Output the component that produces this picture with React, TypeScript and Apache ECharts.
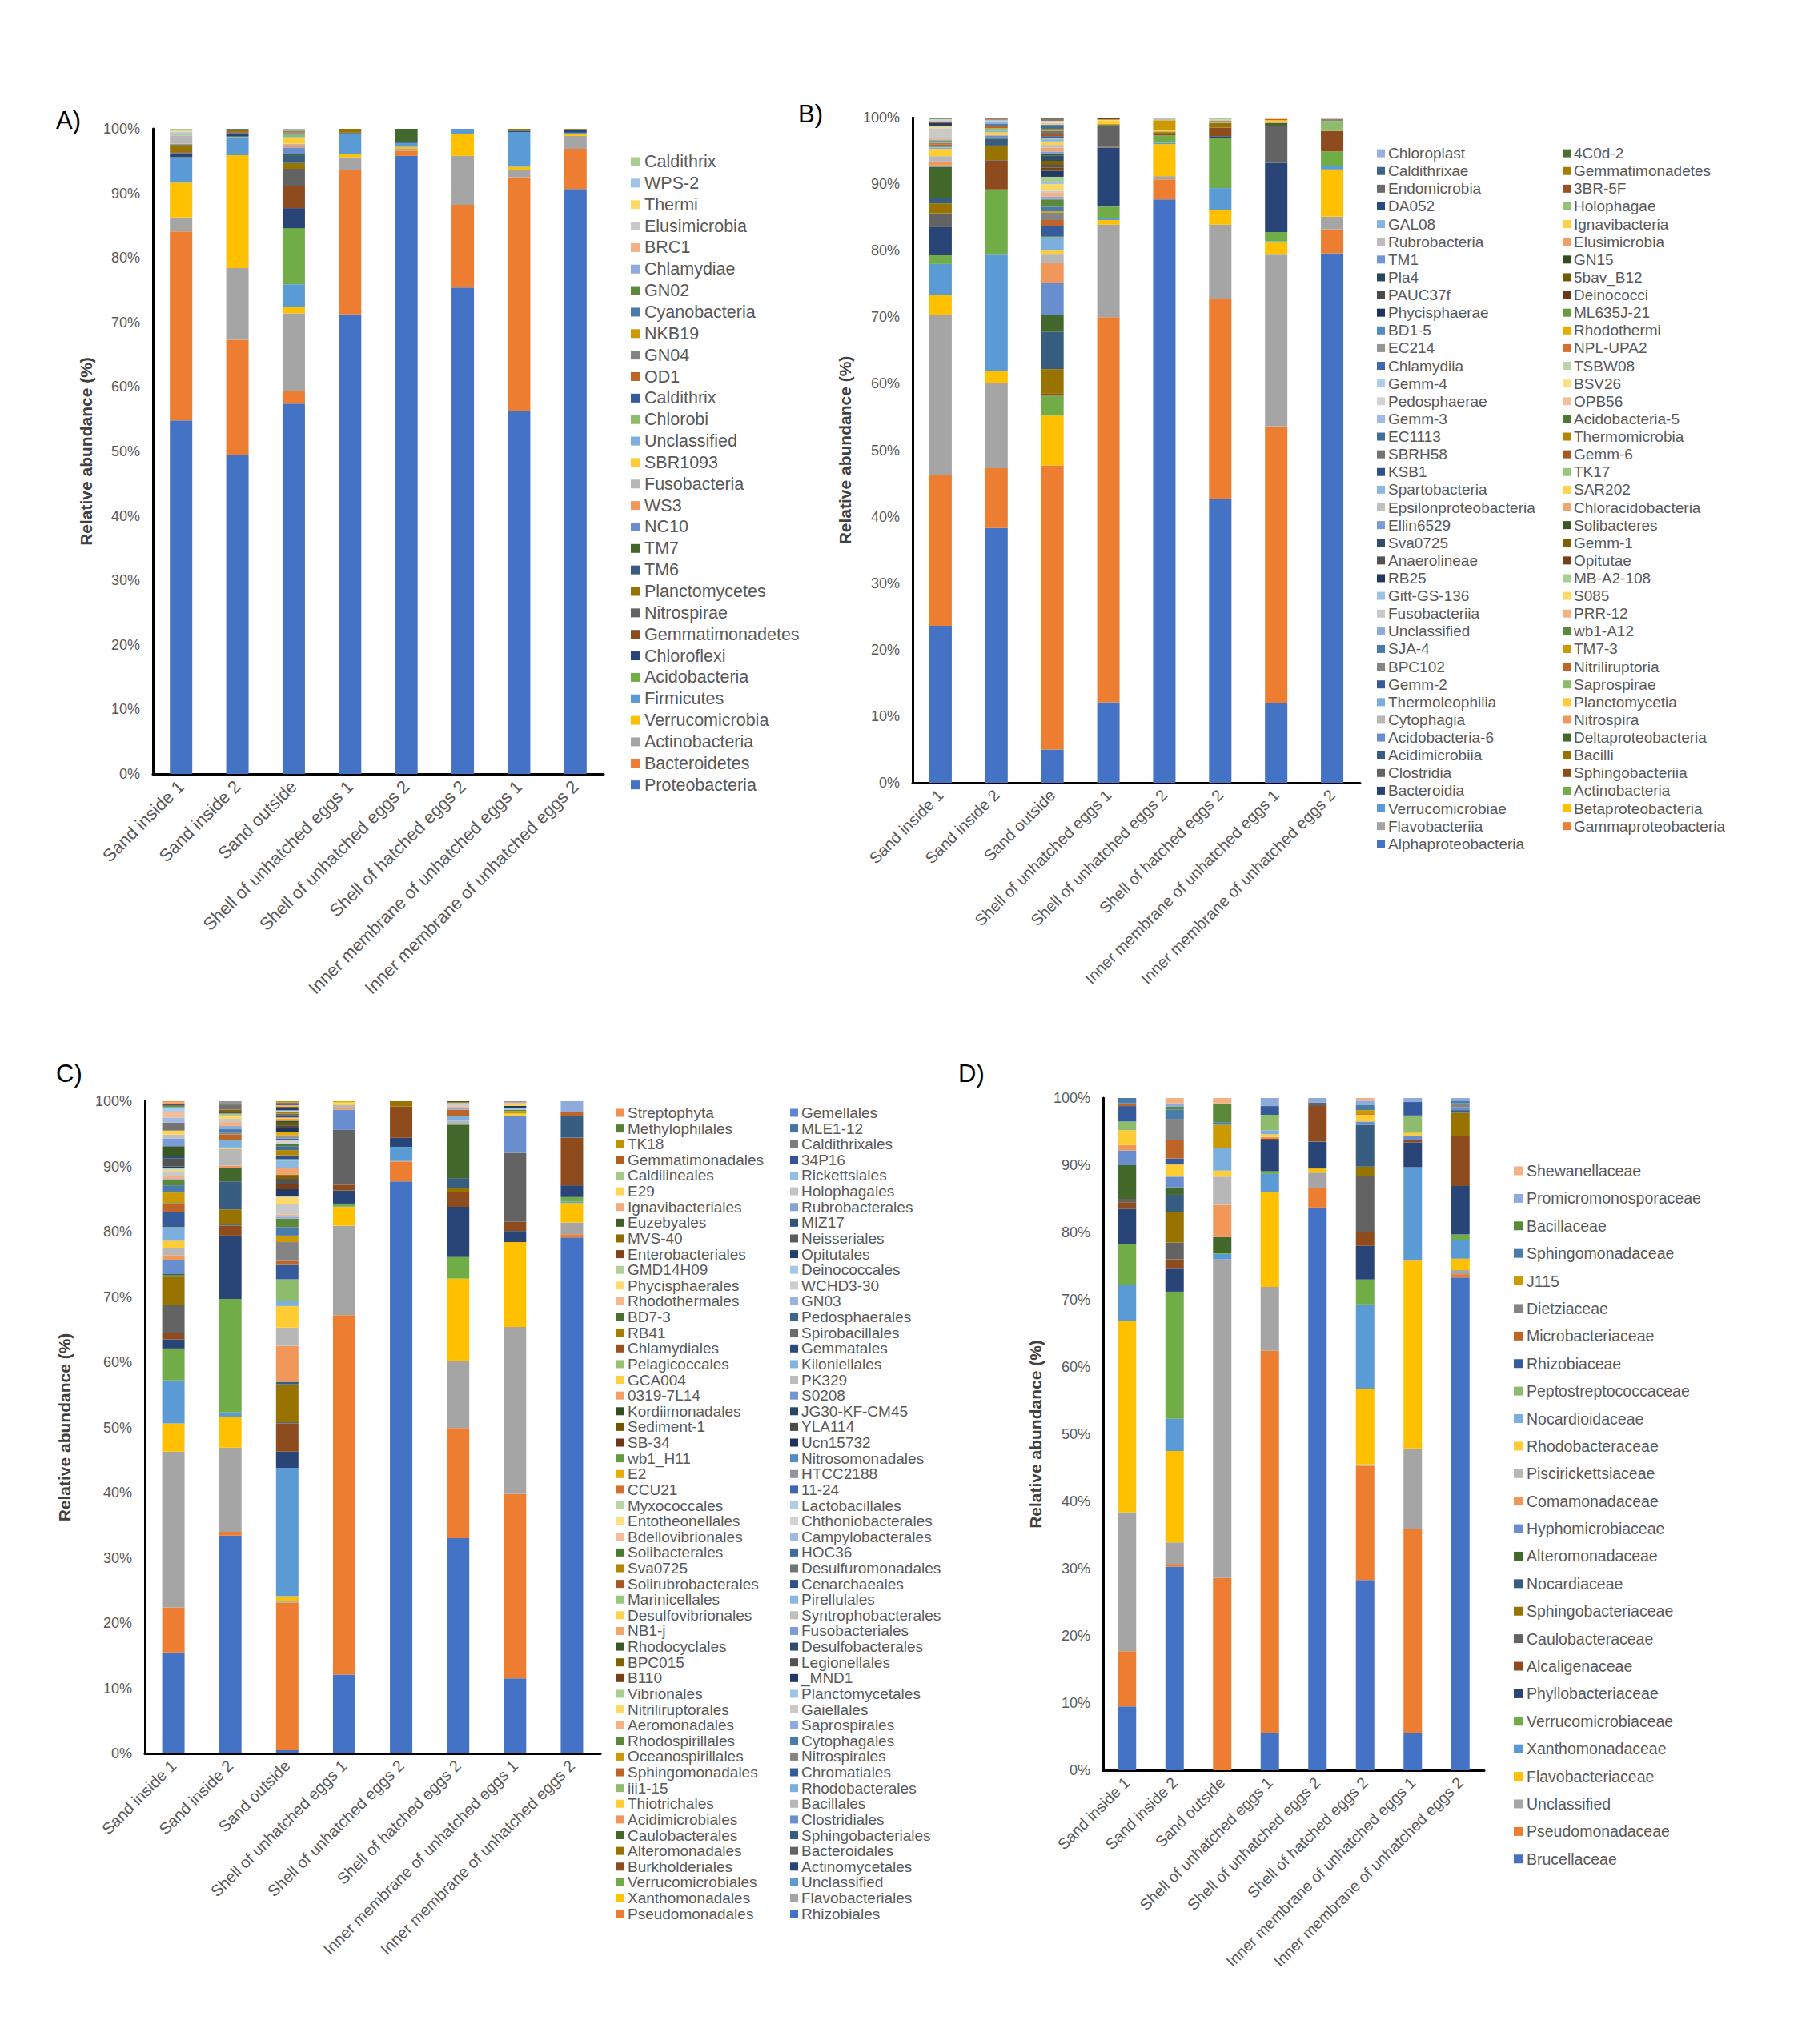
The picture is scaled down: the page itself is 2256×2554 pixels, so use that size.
import React, { useEffect, useRef } from 'react';
import * as echarts from 'echarts';

const samples = [
  'Sand inside 1', 'Sand inside 2', 'Sand outside', 'Shell of unhatched eggs 1',
  'Shell of unhatched eggs 2', 'Shell of hatched eggs 2',
  'Inner membrane of unhatched eggs 1', 'Inner membrane of unhatched eggs 2',
];

// ---------- A) phylum (bottom of stack first) ----------
const phylumNames = [
  'Proteobacteria', 'Bacteroidetes', 'Actinobacteria', 'Verrucomicrobia', 'Firmicutes', 'Acidobacteria',
  'Chloroflexi', 'Gemmatimonadetes', 'Nitrospirae', 'Planctomycetes', 'TM6', 'TM7', 'NC10', 'WS3',
  'Fusobacteria', 'SBR1093', 'Unclassified', 'Chlorobi', 'Caldithrix', 'OD1', 'GN04', 'NKB19',
  'Cyanobacteria', 'GN02', 'Chlamydiae', 'BRC1', 'Elusimicrobia', 'Thermi', 'WPS-2', 'Caldithrix',
];
const phylumValues = [
  [54.8, 49.4, 57.4, 71.25, 95.8, 75.4, 56.25, 90.65],
  [29.3, 17.9, 2.0, 22.35, 0.8, 12.8, 36.25, 6.25],
  [2.15, 11.1, 12.0, 2.0, 0.3, 7.6, 1.1, 2.0],
  [5.4, 17.5, 1.0, 0.45, 0.3, 3.4, 0.5, 0.3],
  [3.8, 2.8, 3.5, 3.15, 0.6, 0.8, 5.4, 0.2],
  [0.15, 0.1, 8.7, 0.1, 0, 0, 0, 0],
  [0.6, 0.5, 3.1, 0.1, 0.1, 0, 0.2, 0.5],
  [0.1, 0.1, 3.4, 0, 0.1, 0, 0, 0],
  [0.1, 0.1, 2.7, 0, 0, 0, 0, 0],
  [1.1, 0.4, 0.9, 0.6, 0, 0, 0.3, 0.1],
  [0.05, 0.1, 1.2, 0, 0, 0, 0, 0],
  [0.05, 0, 0.2, 0, 2.0, 0, 0, 0],
  [0.05, 0, 1.0, 0, 0, 0, 0, 0],
  [0.05, 0, 0.4, 0, 0, 0, 0, 0],
  [1.2, 0, 0.2, 0, 0, 0, 0, 0],
  [0.05, 0, 0.8, 0, 0, 0, 0, 0],
  [0.1, 0, 0.2, 0, 0, 0, 0, 0],
  [0.2, 0, 0.4, 0, 0, 0, 0, 0],
  [0, 0, 0.2, 0, 0, 0, 0, 0],
  [0, 0, 0.1, 0, 0, 0, 0, 0],
  [0, 0, 0.3, 0, 0, 0, 0, 0],
  [0, 0, 0.1, 0, 0, 0, 0, 0],
  [0, 0, 0.1, 0, 0, 0, 0, 0],
  [0, 0, 0.05, 0, 0, 0, 0, 0],
  [0, 0, 0.05, 0, 0, 0, 0, 0],
  [0, 0, 0, 0, 0, 0, 0, 0],
  [0.3, 0, 0, 0, 0, 0, 0, 0],
  [0.1, 0, 0, 0, 0, 0, 0, 0],
  [0.05, 0, 0, 0, 0, 0, 0, 0],
  [0.3, 0, 0, 0, 0, 0, 0, 0],
];

// ---------- B) class ----------
const classNames = [
  'Alphaproteobacteria', 'Gammaproteobacteria', 'Flavobacteriia', 'Betaproteobacteria', 'Verrucomicrobiae',
  'Actinobacteria', 'Bacteroidia', 'Sphingobacteriia', 'Clostridia', 'Bacilli', 'Acidimicrobiia',
  'Deltaproteobacteria', 'Acidobacteria-6', 'Nitrospira', 'Cytophagia', 'Planctomycetia', 'Thermoleophilia',
  'Saprospirae', 'Gemm-2', 'Nitriliruptoria', 'BPC102', 'TM7-3', 'SJA-4', 'wb1-A12', 'Unclassified',
  'PRR-12', 'Fusobacteriia', 'S085', 'Gitt-GS-136', 'MB-A2-108', 'RB25', 'Opitutae', 'Anaerolineae',
  'Gemm-1', 'Sva0725', 'Solibacteres', 'Ellin6529', 'Chloracidobacteria', 'Epsilonproteobacteria',
  'SAR202', 'Spartobacteria', 'TK17', 'KSB1', 'Gemm-6', 'SBRH58', 'Thermomicrobia', 'EC1113',
  'Acidobacteria-5', 'Gemm-3', 'OPB56', 'Pedosphaerae', 'BSV26', 'Gemm-4', 'TSBW08', 'Chlamydiia',
  'NPL-UPA2', 'EC214', 'Rhodothermi', 'BD1-5', 'ML635J-21', 'Phycisphaerae', 'Deinococci', 'PAUC37f',
  '5bav_B12', 'Pla4', 'GN15', 'TM1', 'Elusimicrobia', 'Rubrobacteria', 'Ignavibacteria', 'GAL08',
  'Holophagae', 'DA052', '3BR-5F', 'Endomicrobia', 'Gemmatimonadetes', 'Caldithrixae', '4C0d-2', 'Chloroplast',
];
const classValues = [
  [23.6, 38.3, 5.0, 12.1, 87.7, 42.6, 11.9, 79.6],
  [22.7, 9.0, 42.7, 57.9, 3.0, 30.2, 41.7, 3.6],
  [24.0, 12.8, 0, 13.9, 0.5, 11.1, 25.8, 1.9],
  [3.0, 1.8, 7.5, 0.7, 4.8, 2.2, 1.8, 7.1],
  [4.7, 17.5, 0, 0.3, 0.2, 3.3, 0.2, 0.5],
  [1.3, 9.8, 3.0, 1.7, 1.1, 7.5, 1.4, 2.2],
  [4.3, 0, 0, 8.9, 0, 0.3, 10.4, 0],
  [0.1, 4.3, 0.3, 0.1, 0.3, 1.3, 0, 3.1],
  [1.9, 0.1, 0, 3.1, 0, 0, 5.5, 0],
  [1.5, 2.2, 3.7, 0.2, 0.2, 0.7, 0, 0],
  [0.8, 1.0, 5.6, 0, 0, 0, 0, 0],
  [4.7, 0.2, 2.5, 0.1, 0.1, 0, 0.5, 0],
  [0.2, 0.3, 4.8, 0, 0, 0, 0, 0],
  [0.6, 0.1, 3.1, 0, 0, 0, 0.1, 0],
  [0.8, 0, 1.2, 0, 0, 0, 0, 0],
  [1.1, 0.4, 0.6, 0.6, 0.2, 0, 0.3, 0],
  [0.2, 0.2, 1.9, 0, 0, 0, 0, 0],
  [0.1, 0.4, 0.2, 0, 0, 0.1, 0, 1.5],
  [0.1, 0, 1.6, 0, 0, 0, 0, 0],
  [0.3, 0.4, 0.9, 0, 0, 0.2, 0.2, 0],
  [0.2, 0, 1.1, 0, 0, 0, 0, 0.3],
  [0.1, 0, 0.2, 0, 1.5, 0, 0, 0],
  [0.1, 0.3, 0.7, 0, 0, 0, 0, 0],
  [0.1, 0, 1.1, 0, 0, 0, 0, 0],
  [0.2, 0.2, 0.4, 0, 0, 0, 0, 0],
  [0.2, 0, 0.6, 0, 0, 0, 0, 0.2],
  [1.5, 0.2, 0.3, 0, 0, 0.2, 0, 0],
  [0.2, 0, 1.0, 0.1, 0, 0, 0.2, 0],
  [0.1, 0.2, 0.3, 0, 0, 0, 0, 0],
  [0.1, 0, 0.8, 0, 0, 0.3, 0, 0],
  [0.4, 0, 0.9, 0, 0, 0, 0, 0],
  [0.1, 0.1, 0.5, 0.3, 0, 0, 0, 0],
  [0.1, 0, 0.4, 0, 0, 0, 0, 0],
  [0, 0, 0.6, 0, 0, 0, 0, 0],
  [0, 0, 0.8, 0, 0, 0, 0, 0],
  [0, 0, 0.3, 0, 0, 0, 0, 0],
  [0, 0, 0.3, 0, 0, 0, 0, 0],
  [0, 0, 0.6, 0, 0, 0, 0, 0],
  [0.2, 0, 0.4, 0, 0.4, 0, 0, 0],
  [0, 0, 0.5, 0, 0, 0, 0, 0],
  [0, 0, 0.4, 0, 0, 0, 0, 0],
  [0, 0, 0.2, 0, 0, 0, 0, 0],
  [0, 0, 0.2, 0, 0, 0, 0, 0],
  [0, 0.2, 0.3, 0, 0, 0, 0, 0],
  [0, 0, 0.5, 0, 0, 0, 0, 0],
  [0, 0, 0.3, 0, 0, 0, 0, 0],
  [0, 0, 0.4, 0, 0, 0, 0, 0],
  [0, 0, 0.2, 0, 0, 0, 0, 0],
  [0, 0, 0.1, 0, 0, 0, 0, 0],
  [0, 0, 0.2, 0, 0, 0, 0, 0],
  [0.2, 0, 0.2, 0, 0, 0, 0, 0],
  [0, 0, 0.1, 0, 0, 0, 0, 0],
  [0, 0, 0, 0, 0, 0, 0, 0],
  [0, 0, 0, 0, 0, 0, 0, 0],
  [0, 0, 0.1, 0, 0, 0, 0, 0],
  [0, 0, 0, 0, 0, 0, 0, 0],
  [0, 0, 0, 0, 0, 0, 0, 0],
  [0, 0, 0, 0, 0, 0, 0, 0],
  [0, 0, 0, 0, 0, 0, 0, 0],
  [0, 0, 0, 0, 0, 0, 0, 0],
  [0, 0, 0, 0, 0, 0, 0, 0],
  [0, 0, 0.1, 0, 0, 0, 0, 0],
  [0, 0, 0, 0, 0, 0, 0, 0],
  [0, 0, 0.1, 0, 0, 0, 0, 0],
  [0, 0, 0, 0, 0, 0, 0, 0],
  [0, 0, 0, 0, 0, 0, 0, 0],
  [0, 0, 0, 0, 0, 0, 0, 0],
  [0, 0, 0, 0, 0, 0, 0, 0],
  [0, 0, 0, 0, 0, 0, 0, 0],
  [0, 0, 0, 0, 0, 0, 0, 0],
  [0, 0, 0, 0, 0, 0, 0, 0],
  [0, 0, 0, 0, 0, 0, 0, 0],
  [0, 0, 0.1, 0, 0, 0, 0, 0],
  [0, 0, 0, 0, 0, 0, 0, 0],
  [0, 0, 0, 0, 0, 0, 0, 0],
  [0, 0, 0, 0, 0, 0, 0, 0],
  [0, 0, 0, 0, 0, 0, 0, 0],
  [0.1, 0, 0, 0, 0, 0, 0, 0],
  [0.1, 0, 0.1, 0, 0, 0, 0, 0],
];

// ---------- C) order ----------
const orderNames = [
  'Rhizobiales', 'Pseudomonadales', 'Flavobacteriales', 'Xanthomonadales', 'Unclassified', 'Verrucomicrobiales',
  'Actinomycetales', 'Burkholderiales', 'Bacteroidales', 'Alteromonadales', 'Sphingobacteriales', 'Caulobacterales',
  'Clostridiales', 'Acidimicrobiales', 'Bacillales', 'Thiotrichales', 'Rhodobacterales', 'iii1-15',
  'Chromatiales', 'Sphingomonadales', 'Nitrospirales', 'Oceanospirillales', 'Cytophagales', 'Rhodospirillales',
  'Saprospirales', 'Aeromonadales', 'Gaiellales', 'Nitriliruptorales', 'Planctomycetales', 'Vibrionales',
  '_MND1', 'B110', 'Legionellales', 'BPC015', 'Desulfobacterales', 'Rhodocyclales', 'Fusobacteriales', 'NB1-j',
  'Syntrophobacterales', 'Desulfovibrionales', 'Pirellulales', 'Marinicellales', 'Cenarchaeales',
  'Solirubrobacterales', 'Desulfuromonadales', 'Sva0725', 'HOC36', 'Solibacterales', 'Campylobacterales',
  'Bdellovibrionales', 'Chthoniobacterales', 'Entotheonellales', 'Lactobacillales', 'Myxococcales', '11-24',
  'CCU21', 'HTCC2188', 'E2', 'Nitrosomonadales', 'wb1_H11', 'Ucn15732', 'SB-34', 'YLA114', 'Sediment-1',
  'JG30-KF-CM45', 'Kordiimonadales', 'S0208', '0319-7L14', 'PK329', 'GCA004', 'Kiloniellales', 'Pelagicoccales',
  'Gemmatales', 'Chlamydiales', 'Spirobacillales', 'RB41', 'Pedosphaerales', 'BD7-3', 'GN03', 'Rhodothermales',
  'WCHD3-30', 'Phycisphaerales', 'Deinococcales', 'GMD14H09', 'Opitutales', 'Enterobacteriales', 'Neisseriales',
  'MVS-40', 'MIZ17', 'Euzebyales', 'Rubrobacterales', 'Ignavibacteriales', 'Holophagales', 'E29', 'Rickettsiales',
  'Caldilineales', '34P16', 'Gemmatimonadales', 'Caldithrixales', 'TK18', 'MLE1-12', 'Methylophilales',
  'Gemellales', 'Streptophyta',
];
const orderValues = [
  [15.5, 33.4, 0.5, 12.1, 87.7, 33.0, 11.5, 79.1],
  [6.9, 0.6, 22.6, 55.1, 3.0, 16.9, 28.3, 0.5],
  [23.9, 12.9, 0.2, 13.7, 0.3, 10.3, 25.6, 1.8],
  [4.3, 4.7, 0.8, 2.9, 0, 12.6, 13.0, 3.0],
  [6.6, 0.7, 19.7, 0.1, 2.0, 0, 0, 0.2],
  [4.9, 17.4, 0, 0.4, 0, 3.3, 0, 0.7],
  [1.4, 9.7, 2.5, 2.0, 1.4, 7.7, 1.7, 1.8],
  [1.0, 1.5, 4.3, 0.9, 4.8, 2.3, 1.4, 7.3],
  [4.2, 0.2, 0.2, 8.4, 0, 0, 10.6, 0],
  [4.4, 2.3, 5.8, 0, 0.8, 0.6, 0, 0],
  [0.2, 4.3, 0.4, 0, 0, 1.5, 0, 3.3],
  [0.2, 2.0, 0, 0, 0, 8.2, 0, 0],
  [2.1, 0, 0, 3.1, 0, 0, 5.6, 0],
  [0.8, 0.4, 5.5, 0.3, 0, 0, 0, 0],
  [1.1, 2.6, 2.8, 0.4, 0, 0.6, 0, 0],
  [1.1, 0.2, 3.3, 0.2, 0, 0, 0.4, 0],
  [2.0, 1.1, 0.8, 0, 0, 0.7, 0, 0],
  [0.1, 0, 3.3, 0, 0, 0, 0, 0],
  [2.3, 0, 2.2, 0, 0, 0, 0, 0],
  [1.2, 0.9, 0.6, 0, 0, 1.0, 0, 0.7],
  [0.2, 0.3, 2.9, 0, 0, 0, 0, 0],
  [1.6, 0, 1.0, 0, 0, 0, 0.4, 0],
  [1.1, 0.5, 1.3, 0, 0, 0, 0, 0],
  [0.9, 0, 1.3, 0, 0, 0, 0.2, 0],
  [0.1, 0.5, 0.3, 0, 0, 0.3, 0, 1.6],
  [0.4, 0.6, 0.3, 0, 0, 0.2, 0, 0],
  [0.8, 0.5, 1.6, 0, 0, 0.3, 0, 0],
  [0.2, 0.4, 1.1, 0.2, 0, 0, 0, 0],
  [0.1, 0, 0.2, 0, 0, 0, 0.3, 0],
  [0.1, 0.4, 0, 0, 0, 0.3, 0, 0],
  [0.3, 0, 1.0, 0, 0, 0, 0.3, 0],
  [0, 0, 0.8, 0, 0, 0.2, 0, 0],
  [1.2, 0.2, 0.8, 0, 0, 0, 0, 0],
  [0, 0.4, 0.6, 0, 0, 0, 0, 0],
  [0.4, 0, 0, 0, 0, 0, 0, 0],
  [1.5, 0, 0, 0, 0, 0, 0, 0],
  [1.2, 0, 0, 0, 0, 0, 0, 0],
  [0, 0, 1.0, 0, 0, 0, 0, 0],
  [0.6, 0, 0, 0, 0, 0, 0, 0],
  [0.6, 0, 0, 0, 0, 0, 0.3, 0],
  [0, 0, 1.2, 0, 0, 0, 0, 0],
  [0, 0, 0.2, 0, 0, 0, 0, 0],
  [0, 0, 0.6, 0, 0, 0, 0, 0],
  [0, 0, 0, 0, 0, 0, 0, 0],
  [1.2, 0.8, 0, 0, 0, 0, 0, 0],
  [0, 0, 0.8, 0, 0, 0, 0, 0],
  [0, 0, 0.6, 0, 0, 0, 0, 0],
  [0, 0, 0.3, 0, 0, 0, 0, 0],
  [0.8, 0, 0, 0, 0, 0, 0, 0],
  [0.8, 0, 0, 0, 0, 0, 0.2, 0],
  [0, 0, 0.6, 0, 0, 0, 0, 0],
  [0, 0, 0, 0, 0, 0, 0, 0],
  [0.6, 0, 0, 0, 0, 0, 0, 0],
  [0, 0, 0, 0, 0, 0, 0, 0],
  [0, 0, 0.3, 0, 0, 0, 0, 0],
  [0, 0, 0, 0, 0, 0, 0, 0],
  [0, 0.5, 0.5, 0, 0, 0, 0.2, 0],
  [0, 0, 0.5, 0.2, 0, 0, 0, 0],
  [0.2, 0, 0, 0, 0, 0, 0, 0],
  [0.2, 0, 0, 0, 0, 0, 0, 0],
  [0, 0, 0.6, 0, 0, 0, 0, 0],
  [0.1, 0, 0, 0, 0, 0, 0, 0],
  [0, 0, 0.4, 0, 0, 0, 0, 0],
  [0, 0, 0.4, 0, 0, 0, 0, 0],
  [0.2, 0, 0, 0, 0, 0, 0, 0],
  [0, 0, 0.3, 0, 0, 0, 0, 0],
  [0, 0, 0, 0, 0, 0, 0, 0],
  [0.2, 0, 0.3, 0, 0, 0, 0, 0],
  [0, 0, 0, 0, 0, 0, 0, 0],
  [0, 0, 0.2, 0, 0, 0, 0, 0],
  [0, 0, 0, 0, 0, 0, 0, 0],
  [0, 0, 0, 0, 0, 0, 0, 0],
  [0, 0, 0.3, 0, 0, 0, 0, 0],
  [0, 0, 0, 0, 0, 0, 0, 0],
  [0, 0, 0.3, 0, 0, 0, 0, 0],
  [0, 0, 0.2, 0, 0, 0, 0, 0],
  [0, 0, 0, 0, 0, 0, 0, 0],
  [0, 0, 0, 0, 0, 0, 0, 0],
  [0, 0, 0, 0, 0, 0, 0, 0],
  [0, 0, 0, 0, 0, 0, 0, 0],
  [0, 0, 0.3, 0, 0, 0, 0, 0],
  [0, 0, 0, 0, 0, 0, 0, 0],
  [0, 0, 0, 0, 0, 0, 0, 0],
  [0, 0, 0, 0, 0, 0, 0, 0],
  [0, 0, 0.3, 0, 0, 0, 0, 0],
  [0, 0, 0, 0, 0, 0, 0, 0],
  [0, 0, 0, 0, 0, 0, 0, 0],
  [0, 0, 0.3, 0, 0, 0, 0, 0],
  [0, 0, 0, 0, 0, 0, 0, 0],
  [0, 0, 0, 0, 0, 0, 0, 0],
  [0, 0, 0, 0, 0, 0, 0, 0],
  [0, 0, 0.2, 0, 0, 0, 0, 0],
  [0, 0, 0, 0, 0, 0, 0, 0],
  [0, 0, 0, 0, 0, 0, 0, 0],
  [0, 0, 0, 0, 0, 0, 0, 0],
  [0, 0, 0, 0, 0, 0, 0, 0],
  [0, 0, 0.2, 0, 0, 0, 0, 0],
  [0, 0, 0, 0, 0, 0, 0, 0],
  [0, 0, 0.2, 0, 0, 0, 0, 0],
  [0, 0, 0.2, 0, 0, 0, 0, 0],
  [0, 0, 0, 0, 0, 0, 0, 0],
  [0, 0, 0, 0, 0, 0, 0, 0],
  [0, 0, 0, 0, 0, 0, 0, 0],
  [0.2, 0, 0, 0, 0, 0, 0, 0],
];

// ---------- D) family ----------
const familyNames = [
  'Brucellaceae', 'Pseudomonadaceae', 'Unclassified', 'Flavobacteriaceae', 'Xanthomonadaceae',
  'Verrucomicrobiaceae', 'Phyllobacteriaceae', 'Alcaligenaceae', 'Caulobacteraceae', 'Sphingobacteriaceae',
  'Nocardiaceae', 'Alteromonadaceae', 'Hyphomicrobiaceae', 'Comamonadaceae', 'Piscirickettsiaceae',
  'Rhodobacteraceae', 'Nocardioidaceae', 'Peptostreptococcaceae', 'Rhizobiaceae', 'Microbacteriaceae',
  'Dietziaceae', 'J115', 'Sphingomonadaceae', 'Bacillaceae', 'Promicromonosporaceae', 'Shewanellaceae',
];
const familyValues = [
  [9.5, 30.3, 0, 5.6, 83.7, 28.3, 5.6, 73.3],
  [8.2, 0.4, 28.6, 56.8, 2.9, 17.0, 30.3, 0.5],
  [20.7, 3.2, 47.4, 9.5, 2.3, 0.2, 12.0, 0.6],
  [28.4, 13.6, 0, 14.1, 0.6, 11.3, 27.9, 1.7],
  [5.4, 4.8, 0.8, 2.7, 0, 12.5, 13.9, 2.8],
  [6.1, 18.9, 0.1, 0.4, 0, 3.7, 0, 0.8],
  [5.2, 3.4, 0, 4.6, 4.0, 5.0, 3.7, 7.2],
  [1.0, 1.4, 0, 0.3, 5.3, 2.1, 0.4, 7.4],
  [0.5, 2.5, 0, 0, 0.5, 8.3, 0, 0.1],
  [0, 4.5, 0, 0, 0, 1.4, 0, 3.4],
  [0, 2.6, 0, 0, 0, 6.2, 0, 0.4],
  [5.0, 1.1, 2.4, 0, 0, 0, 0, 0],
  [2.2, 1.6, 0, 0, 0, 0.5, 0.6, 0.4],
  [0.8, 0, 4.8, 0.2, 0, 0, 0, 0],
  [0, 0, 4.2, 0, 0, 0, 0, 0],
  [2.2, 1.8, 0.9, 0.4, 0, 1.0, 0.4, 0],
  [0, 0, 3.4, 0.6, 0, 0, 0, 0],
  [1.3, 0, 0, 2.3, 0, 0, 2.6, 0],
  [2.3, 0.9, 0, 1.3, 0, 0, 2.0, 0],
  [0.4, 2.8, 0, 0, 0, 0.1, 0, 0],
  [0, 3.1, 0, 0, 0, 0, 0, 0.6],
  [0, 0, 3.4, 0, 0, 0.6, 0, 0],
  [0.8, 1.4, 0.4, 0, 0, 0.8, 0, 0.4],
  [0, 0.4, 2.8, 0, 0, 0, 0, 0],
  [0, 0.5, 0, 1.2, 0.7, 0.6, 0.6, 0.4],
  [0, 0.8, 0.8, 0, 0, 0.4, 0, 0],
];

// ---------- styling (Office-like automatic series colours) ----------
const ACCENTS = [[68, 114, 196], [237, 125, 49], [165, 165, 165], [255, 192, 0], [91, 155, 213], [112, 173, 71]];
const VARIANTS: [string, number][] = [
  ['b', 1], ['s', 0.6], ['t', 0.2], ['s', 0.8], ['t', 0.4], ['s', 0.5], ['t', 0.3], ['s', 0.7], ['t', 0.5],
  ['s', 0.9], ['s', 0.45], ['t', 0.25], ['s', 0.65], ['t', 0.45], ['s', 0.55], ['t', 0.35], ['s', 0.75], ['t', 0.15],
];
function seriesColor(i: number): string {
  const a = ACCENTS[i % 6];
  const [k, f] = VARIANTS[Math.floor(i / 6) % VARIANTS.length];
  const c = a.map((v) => (k === 's' ? Math.round(v * f) : k === 't' ? Math.round(v + (255 - v) * f) : v));
  return `rgb(${c[0]},${c[1]},${c[2]})`;
}

const FONT = '"Liberation Sans", Arial, sans-serif';

const panels = [
  {
    key: 'A', names: phylumNames, values: phylumValues,
    grid: { left: 191, top: 161, width: 563, height: 806 }, barWidth: 28, nameGap: 73, xfs: 22,
    tag: { text: 'A)', x: 70, y: 150 },
    lg: { cols: 1, mx: [788], tx: [805], y0: 202, dy: 26.85, ms: 11, fs: 21.5 },
  },
  {
    key: 'B', names: classNames, values: classValues,
    grid: { left: 1140, top: 147, width: 559, height: 831 }, barWidth: 28, nameGap: 74, xfs: 20,
    tag: { text: 'B)', x: 997, y: 142 },
    lg: { cols: 2, mx: [1720, 1952], tx: [1734, 1966], y0: 191.6, dy: 22.12, ms: 10, fs: 19 },
  },
  {
    key: 'C', names: orderNames, values: orderValues,
    grid: { left: 181, top: 1376, width: 569, height: 815 }, barWidth: 28, nameGap: 90, xfs: 20,
    tag: { text: 'C)', x: 70, y: 1341 },
    lg: { cols: 2, mx: [770, 987], tx: [784, 1001], y0: 1390.5, dy: 19.62, ms: 10, fs: 19 },
  },
  {
    key: 'D', names: familyNames, values: familyValues,
    grid: { left: 1378, top: 1372, width: 476, height: 840 }, barWidth: 23, nameGap: 74, xfs: 19.5,
    tag: { text: 'D)', x: 1197, y: 1341 },
    lg: { cols: 1, mx: [1891], tx: [1907], y0: 1463, dy: 34.39, ms: 11, fs: 19.5 },
  },
];

function buildOption() {
  const grid: any[] = [];
  const xAxis: any[] = [];
  const yAxis: any[] = [];
  const series: any[] = [];
  const graphic: any[] = [];

  panels.forEach((p, pi) => {
    grid.push({ ...p.grid, containLabel: false });
    xAxis.push({
      gridIndex: pi, type: 'category', data: samples,
      axisLine: { show: true, lineStyle: { color: '#000', width: 3 } },
      axisTick: { show: false },
      axisLabel: { interval: 0, rotate: 45, fontSize: p.xfs, color: '#595959', margin: 12, fontFamily: FONT },
    });
    yAxis.push({
      gridIndex: pi, type: 'value', min: 0, max: 100, interval: 10,
      axisLine: { show: true, lineStyle: { color: '#000', width: 3 } },
      axisTick: { show: false }, splitLine: { show: false },
      axisLabel: { formatter: '{value}%', color: '#595959', fontSize: 18, fontFamily: FONT, margin: 16 },
      name: 'Relative abundance (%)', nameLocation: 'middle', nameRotate: 90, nameGap: p.nameGap,
      nameTextStyle: { fontSize: 21, fontWeight: 'bold', color: '#404040', fontFamily: FONT },
    });
    p.names.forEach((nm, si) => {
      series.push({
        type: 'bar', name: nm, stack: p.key, xAxisIndex: pi, yAxisIndex: pi,
        barWidth: p.barWidth, data: p.values[si],
        itemStyle: { color: seriesColor(si) }, silent: true,
      });
    });

    graphic.push({
      type: 'text', x: p.tag.x, y: p.tag.y, silent: true,
      style: { text: p.tag.text, font: `31px ${FONT}`, fill: '#000', textVerticalAlign: 'middle', verticalAlign: 'middle' },
    });
    const n = p.names.length;
    for (let k = 0; k < n; k++) {
      const si = n - 1 - k;
      const row = Math.floor(k / p.lg.cols);
      const col = k % p.lg.cols;
      const yc = p.lg.y0 + row * p.lg.dy;
      graphic.push({
        type: 'rect', silent: true,
        shape: { x: p.lg.mx[col], y: yc - p.lg.ms / 2, width: p.lg.ms, height: p.lg.ms },
        style: { fill: seriesColor(si) },
      });
      graphic.push({
        type: 'text', x: p.lg.tx[col], y: yc, silent: true,
        style: {
          text: p.names[si], font: `${p.lg.fs}px ${FONT}`, fill: '#595959',
          textVerticalAlign: 'middle', verticalAlign: 'middle',
        },
      });
    }
  });

  return {
    animation: false,
    backgroundColor: '#ffffff',
    grid, xAxis, yAxis, series, graphic,
  };
}

export default function App() {
  const ref = useRef<HTMLDivElement>(null);
  useEffect(() => {
    document.body.style.margin = '0';
    if (!ref.current) return;
    const chart = echarts.init(ref.current, undefined, { renderer: 'svg' });
    chart.setOption(buildOption());
    return () => chart.dispose();
  }, []);
  return <div ref={ref} style={{ width: 2256, height: 2554, background: '#fff' }} />;
}
